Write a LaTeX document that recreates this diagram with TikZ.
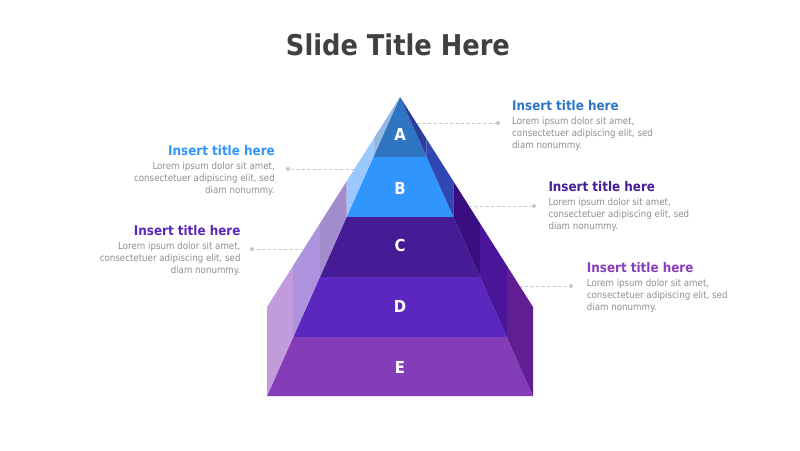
\documentclass[tikz,border=0pt]{standalone}
\usepackage{fontspec}
\setmainfont{DejaVu Sans Condensed}
\begin{document}
\begin{tikzpicture}[x=1pt,y=-1pt,
  conn/.style={draw=black!22, line width=0.7pt, dash pattern=on 3pt off 2.5pt},
  cdot/.style={circle, fill=black!22, inner sep=0pt, minimum size=4pt},
  ttl/.style={inner sep=0pt, font=\fontsize{13.3}{15}\selectfont\bfseries},
  body/.style={inner sep=0pt, text=black!44, font=\fontsize{9.65}{12}\selectfont},
  lbl/.style={text=white, font=\fontsize{16.5}{18}\selectfont\bfseries, inner sep=0pt}]
\useasboundingbox (0,0) rectangle (800,450);
\fill[white] (0,0) rectangle (800,450);
% title
\node[anchor=base, text=black!75, font=\fontsize{28.6}{32}\selectfont\bfseries, inner sep=0pt] (title) at (398,55) {Slide Title Here};
% pyramid tiers: xt/xb/yt/yb/st/sb/front/side-left/side-right
\foreach \xt/\xb/\yt/\yb/\st/\sb/\cf/\cl/\cr in {
  400/373.3/97/157/97/139.2/2F75C2/93B8E2/2C3D9A,
  373.3/346.6/157/217/139.2/181.3/3095FD/9AC9FF/3047B4,
  346.6/319.9/217/277/181.3/223.5/451C96/A38CCB/3A0E80,
  319.9/293.2/277/337/223.5/265.6/5B27BE/AD93DE/4A1699,
  293.2/267/337/396/265.6/307/853CB9/C29BDC/5F1F93}{
  \definecolor{cF}{HTML}{\cf}\definecolor{cL}{HTML}{\cl}\definecolor{cR}{HTML}{\cr}
  \fill[cF] (\xt,\yt) -- ({800-\xt},\yt) -- ({800-\xb},\yb) -- (\xb,\yb) -- cycle;
  \fill[cL] (\xb,\sb) -- (\xb,\yb) -- (\xt,\yt) -- (\xt,\st) -- cycle;
  \fill[cR] ({800-\xb},\sb) -- ({800-\xb},\yb) -- ({800-\xt},\yt) -- ({800-\xt},\st) -- cycle;
}
% letters
\node[lbl] (A) at (400,134) {A};
\node[lbl] (B) at (400,188.5) {B};
\node[lbl] (C) at (400,245.7) {C};
\node[lbl] (D) at (400,306.3) {D};
\node[lbl] (E) at (400,367.8) {E};
% connector ends on the pyramid
\coordinate (pA) at (417,123);
\coordinate (pB) at (354.4,169);
\coordinate (pC) at (469,206);
\coordinate (pD) at (303.7,249);
\coordinate (pE) at (519.7,286);
\node[cdot] (dA) at (498,123) {};
\node[cdot] (dB) at (288,169) {};
\node[cdot] (dC) at (534,206) {};
\node[cdot] (dD) at (252,249) {};
\node[cdot] (dE) at (571,286) {};
\draw[conn] (pA) -- (dA);
\draw[conn] (pB) -- (dB);
\draw[conn] (pC) -- (dC);
\draw[conn] (pD) -- (dD);
\draw[conn] (pE) -- (dE);
% text blocks
\definecolor{tA}{HTML}{2F75C5}
\definecolor{tB}{HTML}{3096FC}
\definecolor{tC}{HTML}{471E99}
\definecolor{tD}{HTML}{5A27BD}
\definecolor{tE}{HTML}{8A3CBC}
\node[ttl, text=tA, anchor=base west] (tiA) at (512,110.5) {Insert title here};
\node[body, anchor=base west] (bA) at (512,124.3) {\begin{tabular}[t]{@{}l@{}}Lorem ipsum dolor sit amet,\\consectetuer adipiscing elit, sed\\diam nonummy.\end{tabular}};
\node[ttl, text=tB, anchor=base east] (tiB) at (275,155.5) {Insert title here};
\node[body, anchor=base east] (bB) at (275,169) {\begin{tabular}[t]{@{}r@{}}Lorem ipsum dolor sit amet,\\consectetuer adipiscing elit, sed\\diam nonummy.\end{tabular}};
\node[ttl, text=tC, anchor=base west] (tiC) at (548.3,191) {Insert title here};
\node[body, anchor=base west] (bC) at (548.3,205) {\begin{tabular}[t]{@{}l@{}}Lorem ipsum dolor sit amet,\\consectetuer adipiscing elit, sed\\diam nonummy.\end{tabular}};
\node[ttl, text=tD, anchor=base east] (tiD) at (240.7,235) {Insert title here};
\node[body, anchor=base east] (bD) at (240.7,249) {\begin{tabular}[t]{@{}r@{}}Lorem ipsum dolor sit amet,\\consectetuer adipiscing elit, sed\\diam nonummy.\end{tabular}};
\node[ttl, text=tE, anchor=base west] (tiE) at (586.7,272) {Insert title here};
\node[body, anchor=base west] (bE) at (586.7,286.5) {\begin{tabular}[t]{@{}l@{}}Lorem ipsum dolor sit amet,\\consectetuer adipiscing elit, sed\\diam nonummy.\end{tabular}};
\end{tikzpicture}
\end{document}
